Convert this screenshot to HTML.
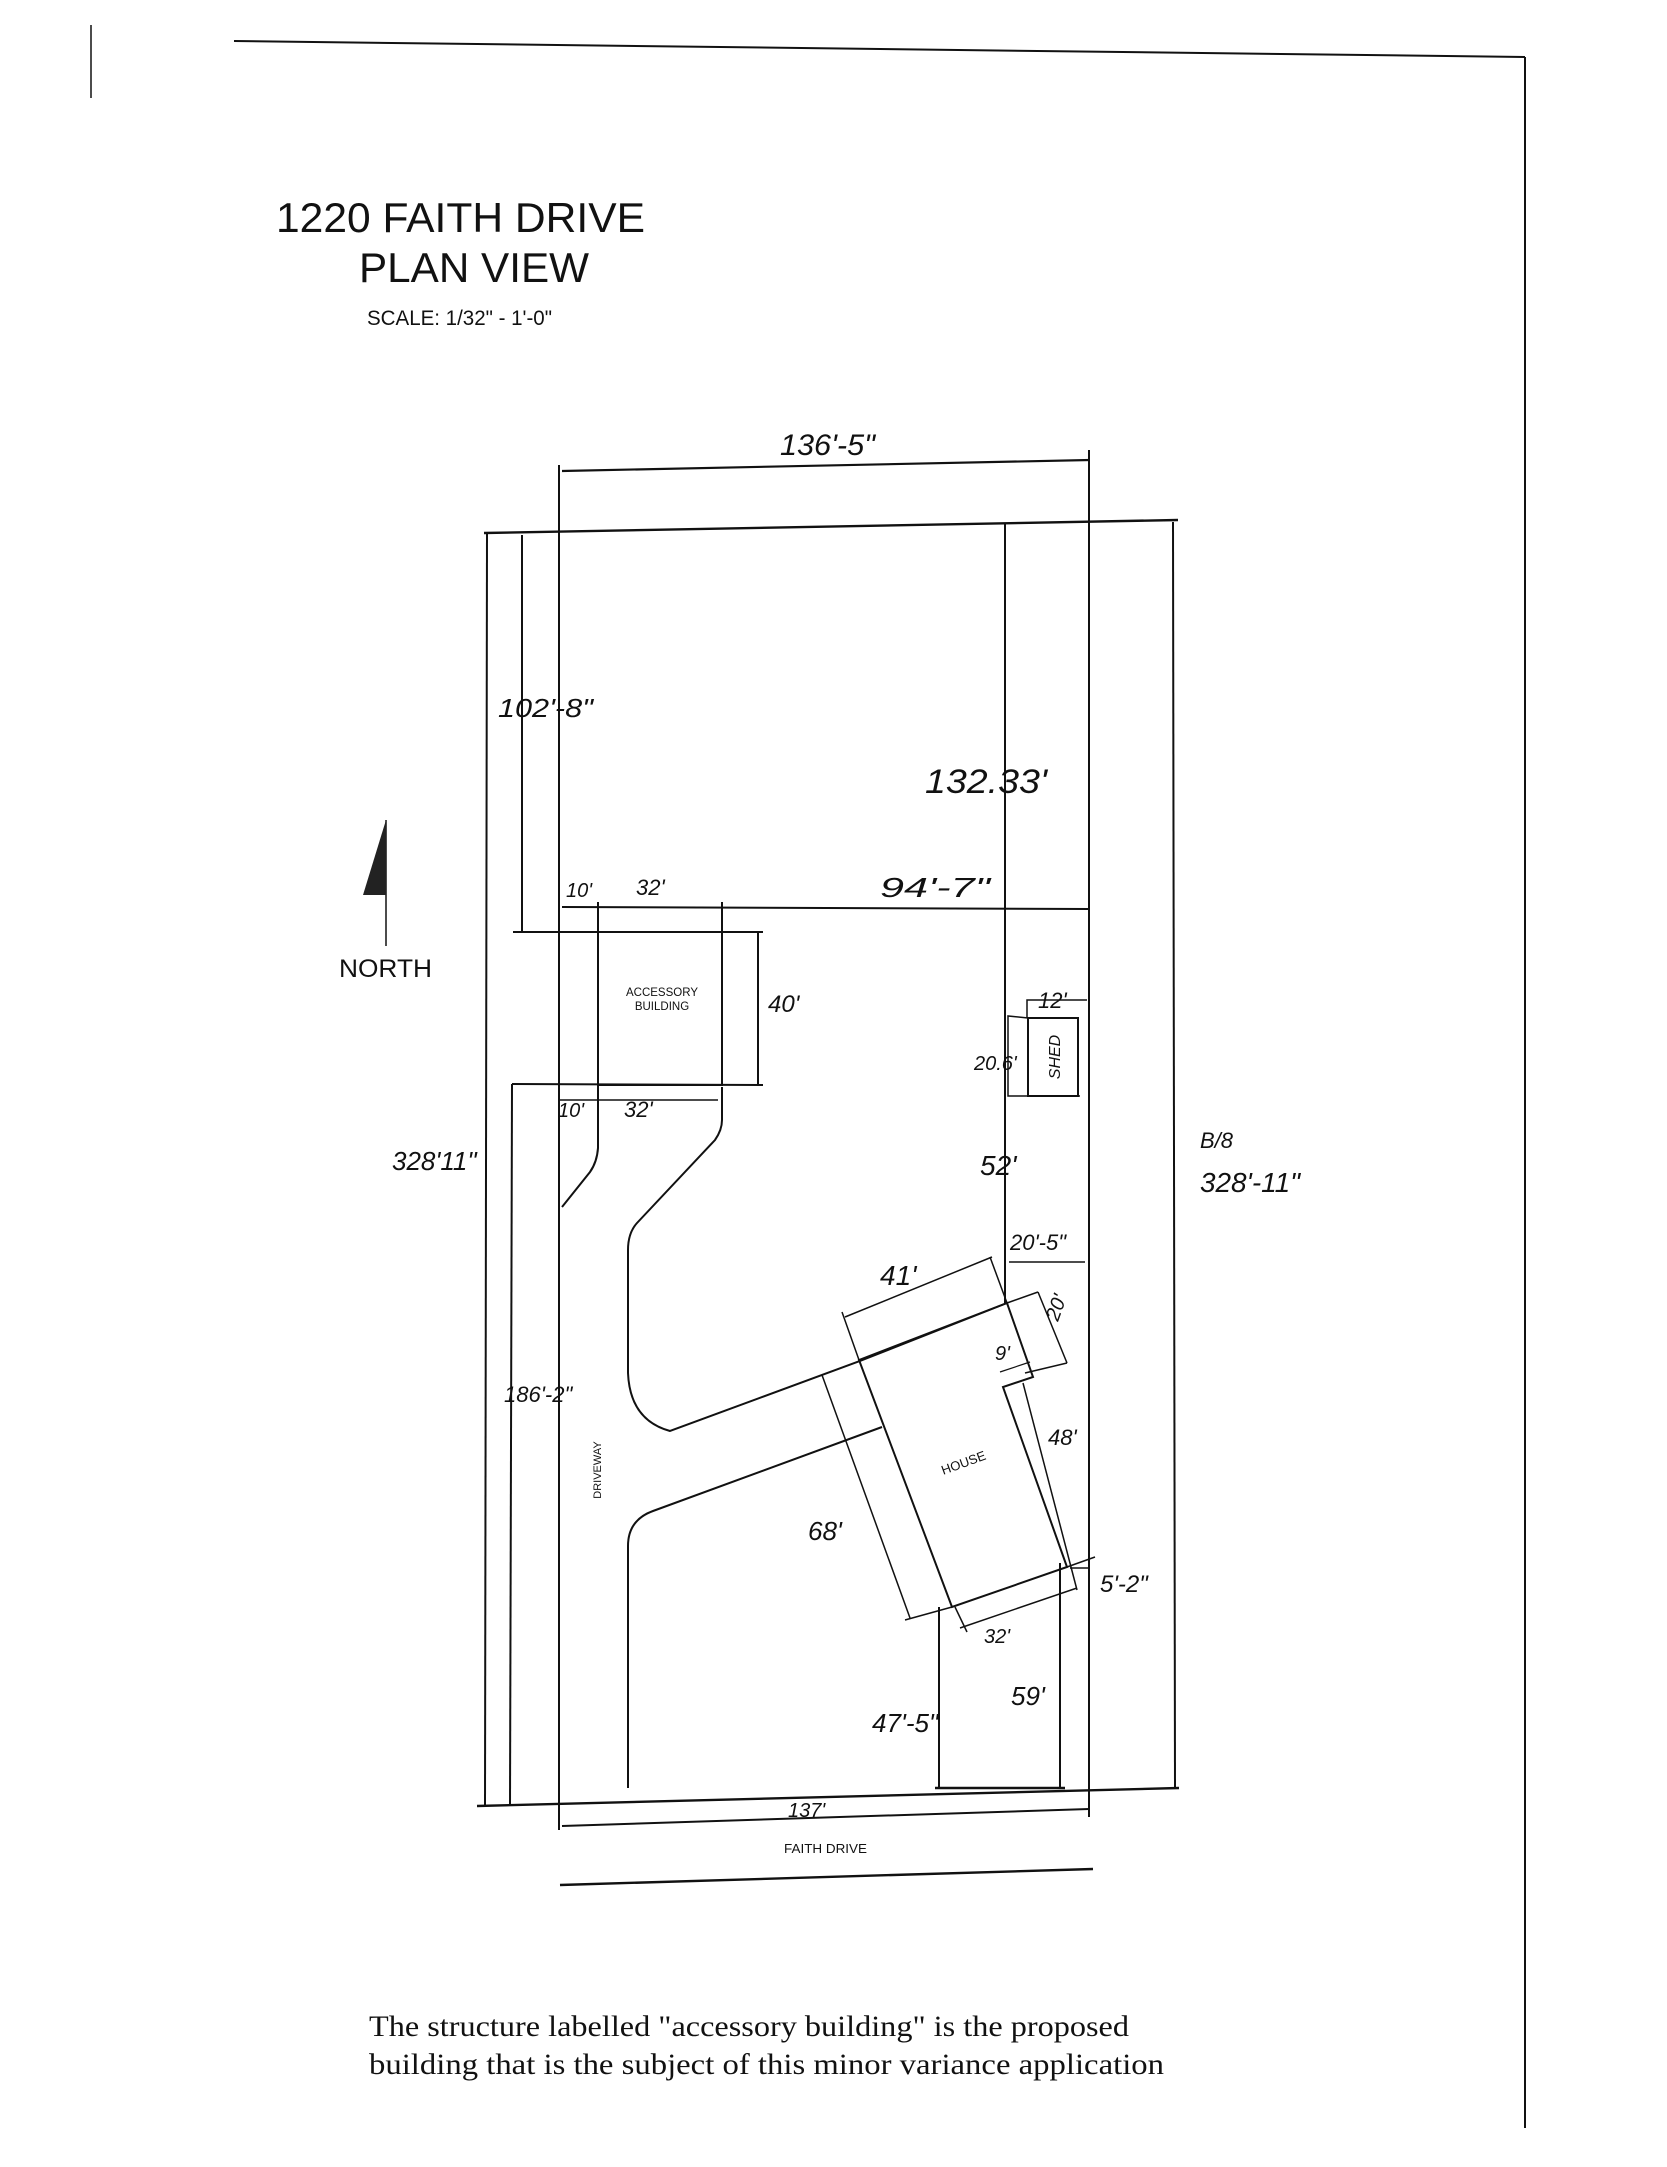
<!DOCTYPE html>
<html><head><meta charset="utf-8"><style>
html,body{margin:0;padding:0;background:#fff;}
svg{display:block;}
.h{font-family:"Liberation Sans",sans-serif;font-style:italic;fill:#111;}
.p{font-family:"Liberation Sans",sans-serif;fill:#111;}
</style></head><body>
<svg width="1667" height="2167" viewBox="0 0 1667 2167" xmlns="http://www.w3.org/2000/svg">
<rect width="1667" height="2167" fill="#fff"/>
<g stroke="#111" stroke-width="2" fill="none">
<line x1="91" y1="25" x2="91" y2="98" stroke-width="1.5"/>
<line x1="234" y1="41" x2="1525" y2="57"/>
<line x1="1525" y1="57" x2="1525" y2="2128"/>
<line x1="562" y1="471" x2="1090" y2="460" stroke-width="2.2"/>
<line x1="559" y1="465" x2="559" y2="1830"/>
<line x1="1089" y1="450" x2="1089" y2="1817"/>
<line x1="484" y1="533" x2="1178" y2="520" stroke-width="2.4"/>
<line x1="487" y1="533" x2="485" y2="1806"/>
<line x1="1173" y1="522" x2="1175" y2="1788"/>
<line x1="477" y1="1806" x2="1179" y2="1788" stroke-width="2.4"/>
<line x1="522" y1="535" x2="522" y2="931"/>
<line x1="1005" y1="524" x2="1005" y2="1303"/>
<line x1="562" y1="907" x2="1089" y2="909"/>
<line x1="513" y1="932" x2="763" y2="932"/>
<line x1="512" y1="1084" x2="763" y2="1085"/>
<line x1="512" y1="1084" x2="510" y2="1806"/>
<line x1="758" y1="932" x2="758" y2="1085"/>
<rect x="598" y="932" width="124" height="153"/>
<line x1="598" y1="902" x2="598" y2="932"/>
<line x1="722" y1="902" x2="722" y2="932"/>
<line x1="560" y1="1100" x2="718" y2="1100" stroke-width="1.5"/>
<path d="M598 1085 L598 1148 Q597 1162 590 1172 L562 1207"/>
<path d="M722 1087 L722 1120 Q722 1130 715 1140 L637 1223 Q628 1233 628 1250 L628 1373 Q630 1420 670 1431 L860 1361 L1007 1303"/>
<path d="M882 1427 L653 1511 Q628 1520 628 1546 L628 1788"/>
<path d="M859 1360 L1007 1303 L1033 1377 L1003 1387 L1067 1567 L952 1607 Z"/>
<line x1="1007" y1="1303" x2="1038" y2="1292" stroke-width="1.5"/>
<line x1="1038" y1="1292" x2="1067" y2="1363" stroke-width="1.5"/>
<line x1="1025" y1="1373" x2="1067" y2="1363" stroke-width="1.5"/>
<line x1="845" y1="1317" x2="992" y2="1257" stroke-width="1.5"/>
<line x1="842" y1="1312" x2="859" y2="1360" stroke-width="1.5"/>
<line x1="990" y1="1257" x2="1007" y2="1303" stroke-width="1.5"/>
<line x1="1009" y1="1262" x2="1085" y2="1262" stroke-width="1.5"/>
<line x1="822" y1="1375" x2="910" y2="1618" stroke-width="1.5"/>
<line x1="905" y1="1620" x2="952" y2="1607" stroke-width="1.5"/>
<line x1="1023" y1="1383" x2="1077" y2="1590" stroke-width="1.5"/>
<line x1="960" y1="1628" x2="1077" y2="1588" stroke-width="1.5"/>
<line x1="955" y1="1607" x2="967" y2="1632" stroke-width="1.5"/>
<line x1="1000" y1="1372" x2="1030" y2="1362" stroke-width="1.2"/>
<line x1="1067" y1="1567" x2="1095" y2="1557" stroke-width="1.5"/>
<line x1="1070" y1="1568" x2="1089" y2="1568" stroke-width="1.5"/>
<line x1="939" y1="1607" x2="939" y2="1788"/>
<line x1="1060" y1="1563" x2="1060" y2="1788"/>
<line x1="935" y1="1788" x2="1065" y2="1788" stroke-width="2.6"/>
<rect x="1028" y="1018" width="50" height="78"/>
<path d="M1028 1018 L1008 1016 L1008 1096 L1080 1096" stroke-width="1.5"/>
<path d="M1027 1018 L1027 1000 L1087 1000" stroke-width="1.5"/>
<line x1="562" y1="1826" x2="1089" y2="1809" stroke-width="2"/>
<line x1="560" y1="1885" x2="1093" y2="1869" stroke-width="2.4"/>
<line x1="386" y1="820" x2="386" y2="946" stroke-width="1.5"/>
</g>
<polygon points="386,820 363,895 386,895" fill="#222"/>
<text x="276" y="232" class="p" font-size="42" textLength="369" lengthAdjust="spacingAndGlyphs">1220 FAITH DRIVE</text>
<text x="359" y="282" class="p" font-size="42" textLength="230" lengthAdjust="spacingAndGlyphs">PLAN VIEW</text>
<text x="367" y="325" class="p" font-size="21" textLength="185" lengthAdjust="spacingAndGlyphs">SCALE: 1/32" - 1'-0"</text>
<text x="339" y="977" class="p" font-size="25" textLength="93" lengthAdjust="spacingAndGlyphs">NORTH</text>
<text x="662" y="996" class="p" font-size="11.5" text-anchor="middle">ACCESSORY</text>
<text x="662" y="1010" class="p" font-size="11.5" text-anchor="middle">BUILDING</text>
<text x="0" y="0" class="p" font-size="11" text-anchor="middle" transform="translate(601,1470) rotate(-90)">DRIVEWAY</text>
<text x="0" y="0" class="p" font-size="13" text-anchor="middle" transform="translate(965,1467) rotate(-20)">HOUSE</text>
<text x="0" y="0" class="h" font-size="16" text-anchor="middle" transform="translate(1060,1057) rotate(-90)">SHED</text>
<text x="784" y="1853" class="p" font-size="13" textLength="83" lengthAdjust="spacingAndGlyphs">FAITH DRIVE</text>
<g class="h">
<text x="780" y="455" font-size="30" textLength="95" lengthAdjust="spacingAndGlyphs">136'-5"</text>
<text x="498" y="717" font-size="26" textLength="95" lengthAdjust="spacingAndGlyphs">102'-8"</text>
<text x="925" y="793" font-size="34" textLength="122" lengthAdjust="spacingAndGlyphs">132.33'</text>
<text x="566" y="897" font-size="20">10'</text>
<text x="636" y="895" font-size="22">32'</text>
<text x="880" y="897" font-size="28" textLength="110" lengthAdjust="spacingAndGlyphs">94'-7"</text>
<text x="558" y="1117" font-size="20">10'</text>
<text x="624" y="1117" font-size="22">32'</text>
<text x="768" y="1012" font-size="24">40'</text>
<text x="1038" y="1008" font-size="22">12'</text>
<text x="974" y="1070" font-size="20">20.6'</text>
<text x="980" y="1175" font-size="28">52'</text>
<text x="392" y="1170" font-size="26">328'11"</text>
<text x="1200" y="1148" font-size="22">B/8</text>
<text x="1200" y="1192" font-size="28" textLength="100" lengthAdjust="spacingAndGlyphs">328'-11"</text>
<text x="1010" y="1250" font-size="22">20'-5"</text>
<text x="880" y="1285" font-size="28">41'</text>
<text x="0" y="0" font-size="20" transform="translate(1058,1322) rotate(-70)">20'</text>
<text x="995" y="1360" font-size="20">9'</text>
<text x="1048" y="1445" font-size="22">48'</text>
<text x="808" y="1540" font-size="26">68'</text>
<text x="1100" y="1592" font-size="24">5'-2"</text>
<text x="984" y="1643" font-size="20">32'</text>
<text x="504" y="1402" font-size="22">186'-2"</text>
<text x="872" y="1732" font-size="26">47'-5"</text>
<text x="1011" y="1705" font-size="26">59'</text>
<text x="788" y="1817" font-size="20">137'</text>
</g>
<text x="369" y="2036" font-family="Liberation Serif,serif" font-size="30" textLength="760" lengthAdjust="spacingAndGlyphs" fill="#111">The structure labelled "accessory building" is the proposed</text>
<text x="369" y="2074" font-family="Liberation Serif,serif" font-size="30" textLength="795" lengthAdjust="spacingAndGlyphs" fill="#111">building that is the subject of this minor variance application</text>
</svg>
</body></html>
